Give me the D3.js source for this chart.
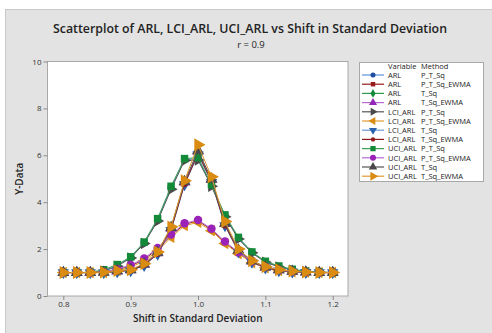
<!DOCTYPE html>
<html><head><meta charset="utf-8">
<script src="https://cdn.jsdelivr.net/npm/d3@7"></script>
<style>body{margin:0;background:#fff}svg{display:block}</style>
</head><body>
<svg id="chart" width="492" height="333"></svg>
<script>
// Shift values on the x axis
const shift = [0.80,0.82,0.84,0.86,0.88,0.90,0.92,0.94,0.96,0.98,1.00,1.02,1.04,1.06,1.08,1.10,1.12,1.14,1.16,1.18,1.20];
const xTicks = [0.8, 0.9, 1.0, 1.1, 1.2];
const yTicks = [0, 2, 4, 6, 8, 10];

// ARL and its confidence limits, per method
const arlPTSq        = [1.00,1.00,1.00,1.08,1.30,1.65,2.28,3.25,4.62,5.82,5.85,4.72,3.42,2.46,1.86,1.46,1.26,1.12,1.05,1.02,1.00];
const arlPTSqEWMA    = [1.00,1.00,1.00,1.02,1.12,1.28,1.56,2.00,2.58,3.06,3.20,2.84,2.28,1.84,1.46,1.24,1.10,1.04,1.02,1.00,1.00];
const arlTSq         = [1.00,1.00,1.00,1.00,1.05,1.10,1.32,1.82,2.85,4.82,6.10,4.92,3.05,1.92,1.46,1.22,1.10,1.04,1.02,1.00,1.00];
const arlTSqEWMA     = [1.00,1.00,1.00,1.01,1.06,1.11,1.34,1.84,2.88,4.85,6.16,4.98,3.08,1.95,1.48,1.23,1.11,1.05,1.02,1.00,1.00];
const lciPTSq        = [1.00,1.00,1.00,1.06,1.27,1.62,2.24,3.20,4.55,5.78,5.80,4.68,3.38,2.43,1.84,1.44,1.24,1.10,1.04,1.01,1.00];
const lciPTSqEWMA    = [1.00,1.00,1.00,1.00,1.08,1.22,1.50,1.92,2.50,3.00,3.14,2.78,2.24,1.80,1.42,1.20,1.08,1.03,1.01,1.00,1.00];
const lciTSq         = [1.00,1.00,1.00,1.00,1.04,1.08,1.30,1.78,2.80,4.75,6.02,4.85,3.00,1.88,1.44,1.20,1.08,1.03,1.01,1.00,1.00];
const lciTSqEWMA     = [1.00,1.00,1.00,1.00,1.05,1.09,1.31,1.80,2.82,4.78,6.06,4.90,3.02,1.90,1.45,1.21,1.09,1.04,1.01,1.00,1.00];
const uciPTSq        = [1.00,1.00,1.01,1.12,1.34,1.67,2.30,3.30,4.68,5.86,5.90,4.74,3.46,2.50,1.88,1.48,1.28,1.14,1.06,1.02,1.00];
const uciPTSqEWMA    = [1.00,1.00,1.00,1.03,1.15,1.32,1.60,2.05,2.62,3.10,3.24,2.87,2.32,1.87,1.48,1.26,1.12,1.05,1.02,1.00,1.00];
const uciTSq         = [1.00,1.00,1.00,1.01,1.07,1.12,1.36,1.86,2.92,4.88,6.20,4.98,3.10,1.96,1.50,1.24,1.12,1.05,1.02,1.00,1.00];
const uciTSqEWMA     = [1.00,1.00,1.00,1.02,1.08,1.12,1.38,1.88,2.95,4.92,6.45,5.08,3.18,2.00,1.50,1.25,1.12,1.06,1.02,1.00,1.00];

const triUp = d3.symbolTriangle;
const series = [
  {variable:"ARL",     method:"P_T_Sq",      values:arlPTSq,     color:"#1f4ea1", line:"#5b93d8", symbol:d3.symbolCircle,  size:40, rot:0},
  {variable:"ARL",     method:"P_T_Sq_EWMA", values:arlPTSqEWMA, color:"#9a1b1b", line:"#9a1b1b", symbol:d3.symbolSquare,  size:40, rot:0},
  {variable:"ARL",     method:"T_Sq",        values:arlTSq,      color:"#138a3a", line:"#2a9a4a", symbol:d3.symbolDiamond, size:46, rot:0},
  {variable:"ARL",     method:"T_Sq_EWMA",   values:arlTSqEWMA,  color:"#9327b8", line:"#b66ad6", symbol:triUp,            size:56, rot:0},
  {variable:"LCI_ARL", method:"P_T_Sq",      values:lciPTSq,     color:"#4a4a4a", line:"#555555", symbol:triUp,            size:56, rot:90},
  {variable:"LCI_ARL", method:"P_T_Sq_EWMA", values:lciPTSqEWMA, color:"#d98b12", line:"#e09a30", symbol:triUp,            size:56, rot:-90},
  {variable:"LCI_ARL", method:"T_Sq",        values:lciTSq,      color:"#2b62b0", line:"#6a9ad8", symbol:triUp,            size:56, rot:180},
  {variable:"LCI_ARL", method:"T_Sq_EWMA",   values:lciTSqEWMA,  color:"#8e1a1a", line:"#8e1a1a", symbol:d3.symbolCircle,  size:30, rot:0},
  {variable:"UCI_ARL", method:"P_T_Sq",      values:uciPTSq,     color:"#128a38", line:"#3aa055", symbol:d3.symbolSquare,  size:56, rot:0},
  {variable:"UCI_ARL", method:"P_T_Sq_EWMA", values:uciPTSqEWMA, color:"#9a22b8", line:"#b66ad6", symbol:d3.symbolCircle,  size:56, rot:0},
  {variable:"UCI_ARL", method:"T_Sq",        values:uciTSq,      color:"#4a4a4a", line:"#555555", symbol:triUp,            size:62, rot:0},
  {variable:"UCI_ARL", method:"T_Sq_EWMA",   values:uciTSqEWMA,  color:"#d98b12", line:"#e09a30", symbol:triUp,            size:72, rot:90}
];

const svg = d3.select("#chart");
const font = "'Open Sans', 'Noto Sans', sans-serif";

// page background panel
svg.append("rect").attr("x", 5.5).attr("y", 9.5).attr("width", 492).attr("height", 330)
  .attr("fill", "#e3e3e3").attr("stroke", "#c9c9c9");

const plot = {left: 47.5, right: 348, top: 61.5, bottom: 296};
const x = d3.scaleLinear().domain([0.7765, 1.2227]).range([plot.left, plot.right]);
const y = d3.scaleLinear().domain([0, 10]).range([plot.bottom, plot.top]);

svg.append("rect").attr("x", plot.left).attr("y", plot.top)
  .attr("width", plot.right - plot.left).attr("height", plot.bottom - plot.top)
  .attr("fill", "#fff").attr("stroke", "#a8a8a8");

// axes
const xAxis = svg.append("g").attr("transform", `translate(0,${plot.bottom})`)
  .call(d3.axisBottom(x).tickValues(xTicks).tickSize(4).tickFormat(d3.format(".1f")));
const yAxis = svg.append("g").attr("transform", `translate(${plot.left},0)`)
  .call(d3.axisLeft(y).tickValues(yTicks).tickSize(4).tickFormat(d3.format("d")));
[xAxis, yAxis].forEach(g => {
  g.select(".domain").remove();
  g.selectAll(".tick line").attr("stroke", "#8a8a8a");
  g.selectAll(".tick text").attr("fill", "#333").style("font-family", font).style("font-size", "8px");
});
xAxis.selectAll(".tick text").attr("y", 5).attr("dy", "0.75em");
yAxis.selectAll(".tick text").attr("x", -6);

// series: connect line then markers
const lineGen = d3.line().x((d, i) => x(shift[i])).y(d => y(d));
series.forEach(s => {
  const g = svg.append("g");
  g.append("path").attr("d", lineGen(s.values)).attr("fill", "none")
    .attr("stroke", s.line).attr("stroke-width", 1);
  g.selectAll("path.pt").data(s.values).join("path").attr("class", "pt")
    .attr("d", d3.symbol(s.symbol, s.size)())
    .attr("transform", (d, i) => `translate(${x(shift[i])},${y(d)}) rotate(${s.rot})`)
    .attr("fill", s.color);
});

// titles
svg.append("text").attr("x", 250).attr("y", 33).attr("text-anchor", "middle")
  .style("font-family", font).style("font-size", "12.5px").style("font-weight", 600)
  .attr("fill", "#222").attr("textLength", 394).attr("lengthAdjust", "spacingAndGlyphs")
  .text("Scatterplot of ARL, LCI_ARL, UCI_ARL vs Shift in Standard Deviation");
svg.append("text").attr("x", 251).attr("y", 47.5).attr("text-anchor", "middle")
  .style("font-family", font).style("font-size", "9.5px").attr("fill", "#222")
  .text("r = 0.9");
svg.append("text").attr("x", (plot.left + plot.right) / 2).attr("y", 322).attr("text-anchor", "middle")
  .style("font-family", font).style("font-size", "10px").style("font-weight", 600).attr("fill", "#222")
  .text("Shift in Standard Deviation");
svg.append("text").attr("transform", `translate(23,${(plot.top + plot.bottom) / 2}) rotate(-90)`)
  .attr("text-anchor", "middle")
  .style("font-family", font).style("font-size", "10px").style("font-weight", 600).attr("fill", "#222")
  .text("Y-Data");

// legend
const lg = svg.append("g");
lg.append("rect").attr("x", 359.5).attr("y", 62.5).attr("width", 124).attr("height", 119)
  .attr("fill", "#fff").attr("stroke", "#a8a8a8");
const lt = (xx, yy, t) => lg.append("text").attr("x", xx).attr("y", yy)
  .style("font-family", font).style("font-size", "7.5px").attr("fill", "#222").text(t);
lt(388, 69, "Variable");
lt(421, 69, "Method");
series.forEach((s, i) => {
  const yy = 75 + i * 9.2;
  lg.append("line").attr("x1", 362).attr("x2", 384).attr("y1", yy).attr("y2", yy)
    .attr("stroke", s.line).attr("stroke-width", 1.2);
  lg.append("path").attr("d", d3.symbol(s.symbol, s.size * 0.5)())
    .attr("transform", `translate(373,${yy}) rotate(${s.rot})`).attr("fill", s.color);
  lt(388, yy + 2.7, s.variable);
  lt(421, yy + 2.7, s.method);
});
</script>
</body></html>
